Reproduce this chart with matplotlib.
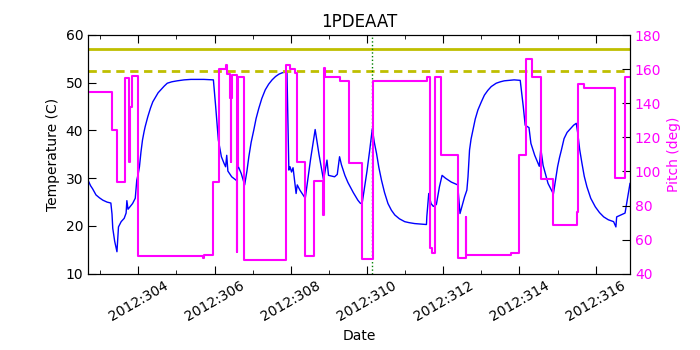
import matplotlib
matplotlib.use('Agg')

import matplotlib.pyplot as plt
from matplotlib.ticker import MultipleLocator, FuncFormatter

# Temperatura (dia do ano 2012, graus C)
temp_days = [302.70, 302.75, 302.80, 302.85, 302.89, 302.98, 303.07, 303.18, 303.28, 303.31,
             303.33, 303.38, 303.44, 303.48, 303.55, 303.63, 303.68, 303.70, 303.73, 303.75,
             303.85, 303.92, 303.96, 304.00, 304.03, 304.07, 304.11, 304.15, 304.18, 304.25,
             304.32, 304.38, 304.46, 304.52, 304.59, 304.68, 304.76, 304.88, 305.02, 305.20,
             305.38, 305.72, 305.97, 306.03, 306.10, 306.18, 306.25, 306.29, 306.32, 306.35,
             306.45, 306.55, 306.58, 306.61, 306.70, 306.79, 306.85, 306.90, 306.96, 307.03,
             307.09, 307.16, 307.24, 307.33, 307.42, 307.51, 307.60, 307.69, 307.78, 307.86,
             307.90, 307.95, 307.98, 308.02, 308.06, 308.14, 308.17, 308.24, 308.38, 308.52,
             308.64, 308.74, 308.86, 308.95, 308.99, 309.15, 309.22, 309.28, 309.33, 309.42,
             309.50, 309.56, 309.64, 309.70, 309.76, 309.82, 309.87, 310.00, 310.07, 310.14,
             310.19, 310.25, 310.31, 310.38, 310.46, 310.55, 310.64, 310.73, 310.85, 310.99,
             311.10, 311.25, 311.40, 311.56, 311.57, 311.62, 311.68, 311.74, 311.82, 311.90,
             311.97, 312.06, 312.21, 312.38, 312.44, 312.56, 312.62, 312.65, 312.69, 312.73,
             312.78, 312.84, 312.91, 313.00, 313.08, 313.17, 313.26, 313.39, 313.50, 313.60,
             313.73, 313.86, 314.02, 314.10, 314.15, 314.25, 314.30, 314.40, 314.52, 314.56,
             314.62, 314.75, 314.89, 314.95, 315.00, 315.05, 315.10, 315.17, 315.25, 315.35,
             315.42, 315.49, 315.53, 315.58, 315.64, 315.70, 315.77, 315.87, 315.99, 316.10,
             316.21, 316.33, 316.47, 316.53, 316.55, 316.77, 316.90]
temp_vals = [29.25, 28.4, 27.8, 27.1, 26.5, 25.9, 25.4, 25.0, 24.8, 22.5,
             19.5, 16.8, 14.6, 19.8, 20.9, 21.6, 22.7, 25.3, 23.5, 23.7,
             24.7, 25.8, 29.6, 31.0, 32.4, 35.5, 38.0, 39.7, 40.8, 42.9,
             44.7, 46.0, 47.1, 47.9, 48.5, 49.3, 49.9, 50.2, 50.4, 50.6,
             50.7, 50.7, 50.6, 45.0, 38.0, 34.5, 33.1, 32.4, 34.8, 31.5,
             30.3, 29.7, 29.5, 32.7, 31.0, 28.6, 31.5, 34.5, 37.5, 40.1,
             42.5, 44.6, 46.7, 48.5, 49.7, 50.6, 51.3, 51.8, 52.1, 52.2,
             52.3, 31.7, 32.4, 31.3, 32.2, 26.8, 28.6, 27.5, 25.8, 34.0,
             40.2, 35.0, 29.6, 33.8, 30.6, 30.3, 30.8, 34.5, 32.8, 30.6,
             29.1, 28.2, 27.0, 26.2, 25.4, 24.8, 24.6, 31.5, 35.8, 40.4,
             37.6, 35.2, 32.3, 29.6, 27.0, 24.7, 23.3, 22.3, 21.5, 20.9,
             20.7, 20.5, 20.4, 20.3, 22.0, 26.8, 24.7, 24.1, 24.5, 28.2,
             30.6, 30.0, 29.2, 28.6, 22.6, 26.1, 27.5, 30.3, 35.9, 38.2,
             40.1, 42.4, 44.3, 46.0, 47.4, 48.4, 49.2, 49.9, 50.2, 50.4,
             50.5, 50.6, 50.5, 45.0, 41.1, 40.6, 37.3, 34.8, 32.5, 36.2,
             32.7, 28.9, 26.7, 29.8, 32.4, 34.3, 35.9, 38.3, 39.6, 40.5,
             41.1, 41.5, 39.4, 36.0, 33.1, 30.4, 28.2, 25.8, 24.0, 22.8,
             21.9, 21.3, 20.9, 19.8, 21.9, 22.7, 28.9]

# Pitch (mudancas de atitude)
pitch_days = [302.68, 303.30, 303.43, 303.65, 303.75, 303.77, 303.84, 303.98, 305.71, 305.72,
              305.96, 306.13, 306.31, 306.34, 306.40, 306.43, 306.44, 306.45, 306.58, 306.60,
              306.62, 306.77, 307.87, 307.99, 308.11, 308.16, 308.38, 308.62, 308.84, 308.86,
              308.90, 309.28, 309.54, 309.87, 310.15, 311.57, 311.66, 311.70, 311.79, 311.93,
              312.40, 312.60, 312.61, 313.79, 313.99, 314.17, 314.33, 314.56, 314.89, 315.51,
              315.53, 315.70, 316.51, 316.77, 316.90]
pitch_vals = [146.3, 124.3, 94.0, 154.5, 105.7, 138.0, 155.8, 50.6, 49.5, 51.0,
              94.0, 160.0, 162.4, 157.0, 143.0, 105.7, 143.0, 156.5, 52.9, 103.0,
              155.6, 48.0, 162.4, 159.9, 157.5, 105.7, 50.4, 94.6, 74.4, 160.5,
              155.6, 153.2, 105.1, 48.6, 153.2, 155.6, 54.9, 52.0, 155.6, 109.6,
              49.0, 73.4, 51.0, 52.0, 109.6, 165.9, 155.6, 95.4, 68.6, 76.4,
              151.3, 149.1, 95.9, 155.6, 155.6]

limite_amarelo = 57.0
limite_planejamento = 52.5
dia_marcado = 310.13

fig = plt.figure(figsize=(7, 3.5), dpi=100)
ax = fig.add_axes([0.1257, 0.218, 0.7743, 0.682])

ax.plot(temp_days, temp_vals, color='#0000ff', lw=1)
ax.axhline(limite_amarelo, color='#bfbf00', lw=2)
ax.axhline(limite_planejamento, color='#bfbf00', lw=2, linestyle=(0, (3, 2)))
ax.axvline(dia_marcado, color='green', lw=1, linestyle=':')

ax.set_xlim(302.68, 316.9)
ax.set_ylim(10, 60)
ax.set_ylabel('Temperature (C)', fontsize=10)
ax.set_xlabel('Date', fontsize=10)
ax.set_title('1PDEAAT', fontsize=12)

ax.xaxis.set_major_locator(MultipleLocator(2))
ax.xaxis.set_minor_locator(MultipleLocator(1))
ax.xaxis.set_major_formatter(FuncFormatter(lambda x, pos: '2012:%03d' % int(round(x))))
ax.tick_params(axis='x', which='both', direction='in', top=True, labelsize=10)
ax.tick_params(axis='x', which='major', length=6)
ax.tick_params(axis='x', which='minor', length=3)
ax.tick_params(axis='y', direction='in', length=6, labelsize=10)
for lbl in ax.get_xticklabels():
    lbl.set_rotation(30)

ax2 = ax.twinx()
ax2.plot(pitch_days, pitch_vals, color='#ff00ff', lw=1.5, drawstyle='steps-post')
ax2.set_ylim(40, 180)
ax2.set_xlim(302.68, 316.9)
ax2.set_ylabel('Pitch (deg)', color='#ff00ff', fontsize=10)
ax2.tick_params(axis='y', direction='in', length=6, labelsize=10, labelcolor='#ff00ff')

fig.savefig('out.png', dpi=100)
plt.close(fig)
